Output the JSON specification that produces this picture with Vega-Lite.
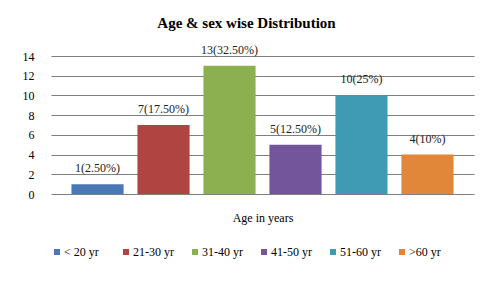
{
  "$schema": "https://vega.github.io/schema/vega-lite/v6.json",
  "autosize": "none",
  "width": 423,
  "height": 138,
  "padding": {"left": 51, "top": 56, "right": 19, "bottom": 100},
  "background": "white",
  "config": {
    "font": "Liberation Serif",
    "view": {"stroke": null}
  },
  "title": {
    "text": "Age & sex wise Distribution",
    "font": "Liberation Serif",
    "fontSize": 15,
    "fontWeight": "bold",
    "color": "#000000",
    "anchor": "middle",
    "frame": "group",
    "dx": -16,
    "offset": 13
  },
  "data": {
    "values": [
      {"group": "< 20 yr", "count": 1, "label": "1(2.50%)"},
      {"group": "21-30 yr", "count": 7, "label": "7(17.50%)"},
      {"group": "31-40 yr", "count": 13, "label": "13(32.50%)"},
      {"group": "41-50 yr", "count": 5, "label": "5(12.50%)"},
      {"group": "51-60 yr", "count": 10, "label": "10(25%)"},
      {"group": ">60 yr", "count": 4, "label": "4(10%)"}
    ]
  },
  "encoding": {
    "x": {
      "field": "group",
      "type": "nominal",
      "sort": null,
      "scale": {"paddingInner": 0.21, "paddingOuter": 0.31},
      "axis": {
        "title": "Age in years",
        "labels": false,
        "ticks": false,
        "domain": false,
        "titleFont": "Liberation Serif",
        "titleFontSize": 12,
        "titleFontWeight": "normal",
        "titleColor": "#000000",
        "titlePadding": 18
      }
    },
    "y": {
      "field": "count",
      "type": "quantitative",
      "scale": {"domain": [0, 14]},
      "axis": {
        "title": null,
        "values": [0, 2, 4, 6, 8, 10, 12, 14],
        "ticks": false,
        "domain": false,
        "labelFont": "Liberation Serif",
        "labelFontSize": 12,
        "labelColor": "#000000",
        "labelPadding": 17,
        "gridColor": "#7f7f7f",
        "gridWidth": 1.2
      }
    }
  },
  "layer": [
    {
      "mark": {"type": "bar"},
      "encoding": {
        "color": {
          "field": "group",
          "type": "nominal",
          "sort": null,
          "scale": {
            "domain": ["< 20 yr", "21-30 yr", "31-40 yr", "41-50 yr", "51-60 yr", ">60 yr"],
            "range": ["#4a78b5", "#b04441", "#8caf4f", "#72559a", "#3f9ab4", "#e0873a"]
          },
          "legend": {
            "title": null,
            "orient": "bottom",
            "direction": "horizontal",
            "symbolType": "square",
            "symbolSize": 36,
            "symbolStrokeWidth": 0,
            "labelFont": "Liberation Serif",
            "labelFontSize": 12,
            "labelColor": "#000000",
            "labelOffset": 1,
            "gridAlign": "all",
            "columnPadding": 15,
            "offset": 23
          }
        }
      }
    },
    {
      "mark": {"type": "text", "baseline": "middle", "dy": -16, "font": "Liberation Serif", "fontSize": 12, "color": "#222222"},
      "encoding": {"text": {"field": "label"}}
    }
  ]
}
